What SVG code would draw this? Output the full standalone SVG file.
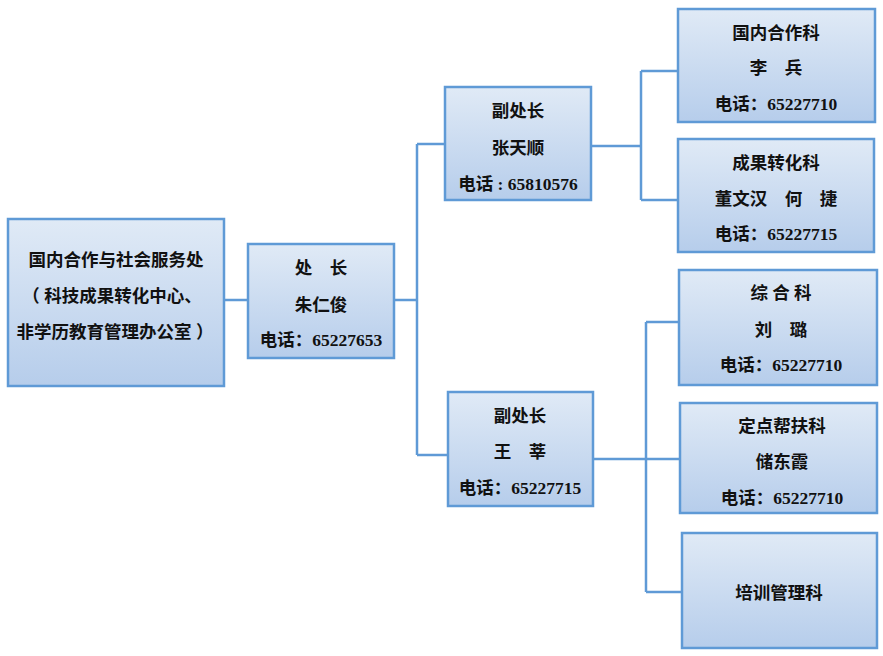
<svg xmlns="http://www.w3.org/2000/svg" width="883" height="656" viewBox="0 0 883 656">
<defs>
<linearGradient id="g" x1="0" y1="0" x2="0" y2="1">
<stop offset="0" stop-color="#e0eaf6"/>
<stop offset="1" stop-color="#b6cdeb"/>
</linearGradient>
<style>
.box{fill:url(#g);stroke:#5f9ad6;stroke-width:2.5}
.t{font-family:"Liberation Serif","Noto Sans CJK SC",serif;font-weight:bold;font-size:17.5px;fill:#111;text-anchor:middle}
.c{fill:none;stroke:#5f9ad6;stroke-width:2.5}
</style>
</defs>
<rect width="883" height="656" fill="#fff"/>
<g id="connectors">
<path class="c" d="M224,300 H248"/>
<path class="c" d="M394,300 H417 M417,144 V455 M417,144 H445 M417,455 H448"/>
<path class="c" d="M591,146 H641 M641,71 V200 M641,71 H678 M641,200 H678"/>
<path class="c" d="M593,459 H680 M646,322 V592 M646,322 H679 M646,592 H682"/>
</g>
<g id="n1">
<rect class="box" x="8" y="219" width="216" height="167"/>
<text class="t" x="116" y="266" font-size="18.3">国内合作与社会服务处</text>
<text class="t" x="112" y="302" font-size="18.3">（ 科技成果转化中心、</text>
<text class="t" x="115" y="338" font-size="18.3">非学历教育管理办公室 ）</text>
</g>
<g id="n2">
<rect class="box" x="248" y="244" width="146" height="114"/>
<text class="t" x="321" y="274">处　长</text>
<text class="t" x="321" y="311">朱仁俊</text>
<text class="t" x="321" y="346">电话：65227653</text>
</g>
<g id="n3">
<rect class="box" x="445" y="87" width="146" height="113"/>
<text class="t" x="518" y="117">副处长</text>
<text class="t" x="518" y="154">张天顺</text>
<text class="t" x="518" y="190">电话 : 65810576</text>
</g>
<g id="n4">
<rect class="box" x="448" y="392" width="145" height="114"/>
<text class="t" x="520" y="422">副处长</text>
<text class="t" x="520" y="458">王　莘</text>
<text class="t" x="520" y="494">电话：65227715</text>
</g>
<g id="n5">
<rect class="box" x="678" y="9" width="197" height="113"/>
<text class="t" x="776" y="39">国内合作科</text>
<text class="t" x="776" y="74">李　兵</text>
<text class="t" x="776" y="110">电话：65227710</text>
</g>
<g id="n6">
<rect class="box" x="678" y="139" width="196" height="113"/>
<text class="t" x="776" y="169">成果转化科</text>
<text class="t" x="776" y="205">董文汉　何　捷</text>
<text class="t" x="776" y="240">电话：65227715</text>
</g>
<g id="n7">
<rect class="box" x="679" y="270" width="198" height="115"/>
<text class="t" x="781" y="299">综 合 科</text>
<text class="t" x="781" y="336">刘　璐</text>
<text class="t" x="781" y="371">电话：65227710</text>
</g>
<g id="n8">
<rect class="box" x="680" y="403" width="197" height="110"/>
<text class="t" x="782" y="432">定点帮扶科</text>
<text class="t" x="782" y="468">储东霞</text>
<text class="t" x="782" y="504">电话：65227710</text>
</g>
<g id="n9">
<rect class="box" x="682" y="533" width="195" height="115"/>
<text class="t" x="779" y="599">培训管理科</text>
</g>
</svg>
